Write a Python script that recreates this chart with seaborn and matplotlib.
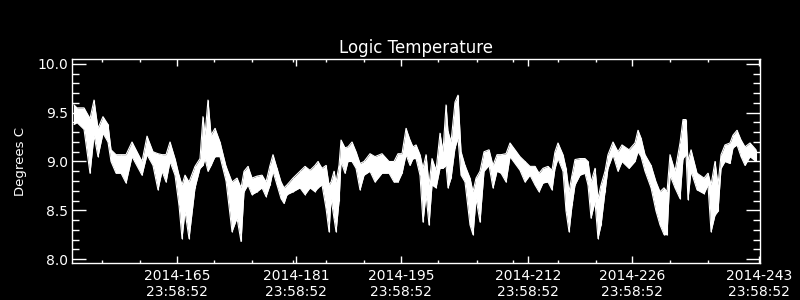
import matplotlib
matplotlib.use("Agg")
import matplotlib.pyplot as plt
import seaborn as sns
import pandas as pd
import numpy as np

# Day of year 2014 (fractional)
days = [151.20, 151.60, 152.54, 153.34, 153.88, 154.41, 155.08, 155.75, 156.16, 156.83,
        157.50, 158.17, 158.97, 160.31, 160.98, 161.78, 162.45, 162.99, 163.53, 164.06,
        164.73, 165.27, 165.67, 166.07, 166.61, 167.41, 168.08, 168.48, 168.75, 169.15,
        169.56, 170.09, 170.76, 171.57, 172.37, 173.04, 173.58, 173.98, 174.51, 175.05,
        175.72, 176.39, 176.93, 177.46, 177.86, 178.40, 178.94, 179.34, 179.74, 180.54,
        181.48, 182.15, 182.82, 183.49, 183.89, 184.43, 184.97, 185.37, 185.64, 186.04,
        186.31, 186.71, 186.98, 187.51, 187.91, 188.45, 188.99, 189.52, 190.06, 190.86,
        191.53, 192.47, 193.41, 194.08, 194.61, 195.15, 195.69, 196.22, 196.62, 197.03,
        197.56, 197.96, 198.37, 198.77, 199.17, 199.71, 200.24, 200.64, 201.05, 201.31,
        201.72, 202.25, 202.65, 203.06, 203.59, 204.26, 204.66, 205.07, 205.60, 206.14,
        206.81, 207.34, 207.88, 208.42, 209.09, 209.62, 210.29, 210.96, 211.63, 212.30,
        212.97, 213.51, 214.04, 214.71, 215.25, 215.65, 216.05, 216.72, 217.13, 217.53,
        217.93, 218.33, 219.00, 219.67, 220.07, 220.48, 221.01, 221.41, 221.82, 222.35,
        222.75, 223.42, 224.09, 224.63, 225.57, 226.37, 226.77, 227.18, 227.71, 228.52,
        229.19, 229.72, 230.26, 230.66, 231.06, 231.73, 232.40, 232.80, 233.21, 233.47,
        233.88, 234.68, 235.62, 236.15, 236.56, 237.09, 237.49, 237.90, 238.43, 239.10,
        239.50, 240.04, 240.58, 241.11, 241.78, 242.59]

temp_high = [9.58, 9.55, 9.55, 9.44, 9.63, 9.34, 9.46, 9.38, 9.12, 9.07,
             9.07, 9.07, 9.20, 9.00, 9.26, 9.10, 9.08, 9.07, 9.07, 9.20,
             9.03, 8.86, 8.76, 8.86, 8.79, 8.95, 9.03, 9.46, 9.27, 9.63,
             9.27, 9.34, 9.20, 8.95, 8.79, 8.83, 8.73, 8.90, 8.95, 8.83,
             8.85, 8.86, 8.79, 8.96, 9.07, 8.93, 8.79, 8.73, 8.76, 8.83,
             8.90, 8.95, 8.91, 8.96, 9.00, 8.93, 8.96, 8.76, 8.79, 8.90,
             8.79, 8.96, 9.22, 9.14, 9.15, 9.20, 9.10, 8.98, 9.00, 9.08,
             9.05, 9.08, 9.00, 9.00, 9.08, 9.08, 9.34, 9.22, 9.15, 9.17,
             9.07, 8.93, 9.07, 8.76, 9.03, 8.91, 9.29, 9.10, 9.58, 9.31,
             9.20, 9.61, 9.68, 9.10, 8.96, 8.83, 8.69, 8.83, 8.90, 9.10,
             9.12, 8.96, 9.07, 9.07, 9.08, 9.19, 9.12, 9.05, 9.00, 8.95,
             8.95, 8.88, 8.93, 8.95, 8.91, 9.10, 9.19, 9.07, 8.93, 8.69,
             8.86, 9.02, 9.03, 9.03, 9.00, 8.79, 8.93, 8.62, 8.76, 8.90,
             9.07, 9.20, 9.10, 9.17, 9.12, 9.19, 9.32, 9.24, 9.07, 8.96,
             8.79, 8.69, 8.73, 8.69, 9.07, 8.90, 9.19, 9.43, 9.43, 9.00,
             9.12, 8.88, 8.83, 8.88, 8.76, 9.00, 8.76, 9.07, 9.17, 9.19,
             9.27, 9.32, 9.22, 9.15, 9.19, 9.12]

temp_low = [9.38, 9.40, 9.33, 8.88, 9.27, 9.05, 9.29, 9.20, 9.00, 8.88,
            8.88, 8.78, 9.05, 8.86, 9.07, 8.96, 8.71, 8.90, 8.79, 9.00,
            8.86, 8.55, 8.21, 8.49, 8.21, 8.73, 8.93, 8.96, 9.03, 8.90,
            8.96, 9.05, 9.05, 8.80, 8.28, 8.42, 8.18, 8.69, 8.76, 8.66,
            8.69, 8.73, 8.64, 8.76, 8.90, 8.76, 8.62, 8.57, 8.66, 8.69,
            8.73, 8.66, 8.73, 8.69, 8.73, 8.76, 8.52, 8.28, 8.62, 8.42,
            8.28, 8.59, 9.00, 8.88, 9.00, 9.00, 8.93, 8.71, 8.86, 8.90,
            8.79, 8.88, 8.88, 8.79, 8.79, 8.88, 9.07, 8.96, 9.03, 9.03,
            8.86, 8.38, 8.66, 8.35, 8.76, 8.73, 8.93, 8.93, 8.96, 8.73,
            8.83, 9.14, 9.24, 8.86, 8.79, 8.35, 8.25, 8.62, 8.38, 8.90,
            8.96, 8.73, 8.90, 8.88, 8.79, 9.05, 8.98, 8.91, 8.79, 8.86,
            8.76, 8.69, 8.78, 8.79, 8.71, 8.93, 9.03, 8.90, 8.49, 8.28,
            8.55, 8.76, 8.86, 8.88, 8.76, 8.42, 8.59, 8.21, 8.35, 8.69,
            8.93, 9.07, 8.90, 9.00, 8.93, 9.00, 9.10, 9.05, 8.90, 8.73,
            8.49, 8.35, 8.25, 8.25, 8.86, 8.73, 8.62, 9.03, 9.07, 8.61,
            8.90, 8.71, 8.67, 8.76, 8.28, 8.45, 8.49, 8.93, 9.00, 8.98,
            9.14, 9.17, 9.05, 8.96, 9.05, 9.00]

major_days = [165, 181, 195, 212, 226, 243]
major_labels = ["2014-165\n23:58:52", "2014-181\n23:58:52", "2014-195\n23:58:52",
                "2014-212\n23:58:52", "2014-226\n23:58:52", "2014-243\n23:58:52"]
minor_days = [155, 160, 170, 175, 180.55, 185, 190, 200, 205.2, 210, 216.05, 221.1, 231.1, 236.15]

sns.set_theme(style="dark", rc={
    "axes.facecolor": "black", "figure.facecolor": "black",
    "axes.edgecolor": "white", "text.color": "white",
    "axes.labelcolor": "white", "xtick.color": "white", "ytick.color": "white",
    "axes.grid": False,
})
plt.rcParams["font.family"] = ["DejaVu Sans"]

df = pd.DataFrame({"day": days, "high": temp_high, "low": temp_low})

fig = plt.figure(figsize=(8, 3), dpi=100)
ax = fig.add_axes([0.09, 0.1233, 0.86, 0.68])

ax.fill_between(df["day"], df["low"], df["high"], color="white", linewidth=0)
sns.lineplot(data=df, x="day", y="high", ax=ax, color="white", linewidth=0.8)
sns.lineplot(data=df, x="day", y="low", ax=ax, color="white", linewidth=0.8)
ax.vlines(df["day"], df["low"], df["high"], color="white", linewidth=0.8)

ax.set_xlim(150.93, 243.12)
ax.set_ylim(7.959, 10.051)

ax.set_xticks(major_days)
ax.set_xticklabels(major_labels, fontsize=10)
ax.set_xticks(minor_days, minor=True)
ax.set_yticks([8.0, 8.5, 9.0, 9.5, 10.0])
ax.set_yticklabels(["8.0", "8.5", "9.0", "9.5", "10.0"], fontsize=10)
ax.set_yticks(np.arange(8.0, 10.01, 0.1), minor=True)

ax.tick_params(axis="x", which="major", direction="in", length=5, width=1,
               top=True, bottom=True, pad=4)
ax.tick_params(axis="x", which="minor", direction="in", length=2.5, width=1,
               top=True, bottom=True)
ax.tick_params(axis="y", which="major", direction="in", length=10, width=1,
               left=True, right=True, pad=3)
ax.tick_params(axis="y", which="minor", direction="in", length=5, width=1,
               left=True, right=True)

for s in ax.spines.values():
    s.set_color("white")
    s.set_linewidth(1.0)
    s.set_visible(True)

ax.set_xlabel("")
ax.set_ylabel("Degrees C", fontsize=9.5, labelpad=7)
ax.set_title("Logic Temperature", fontsize=12, color="white", pad=4)

fig.savefig("out.png", dpi=100, facecolor="black")
